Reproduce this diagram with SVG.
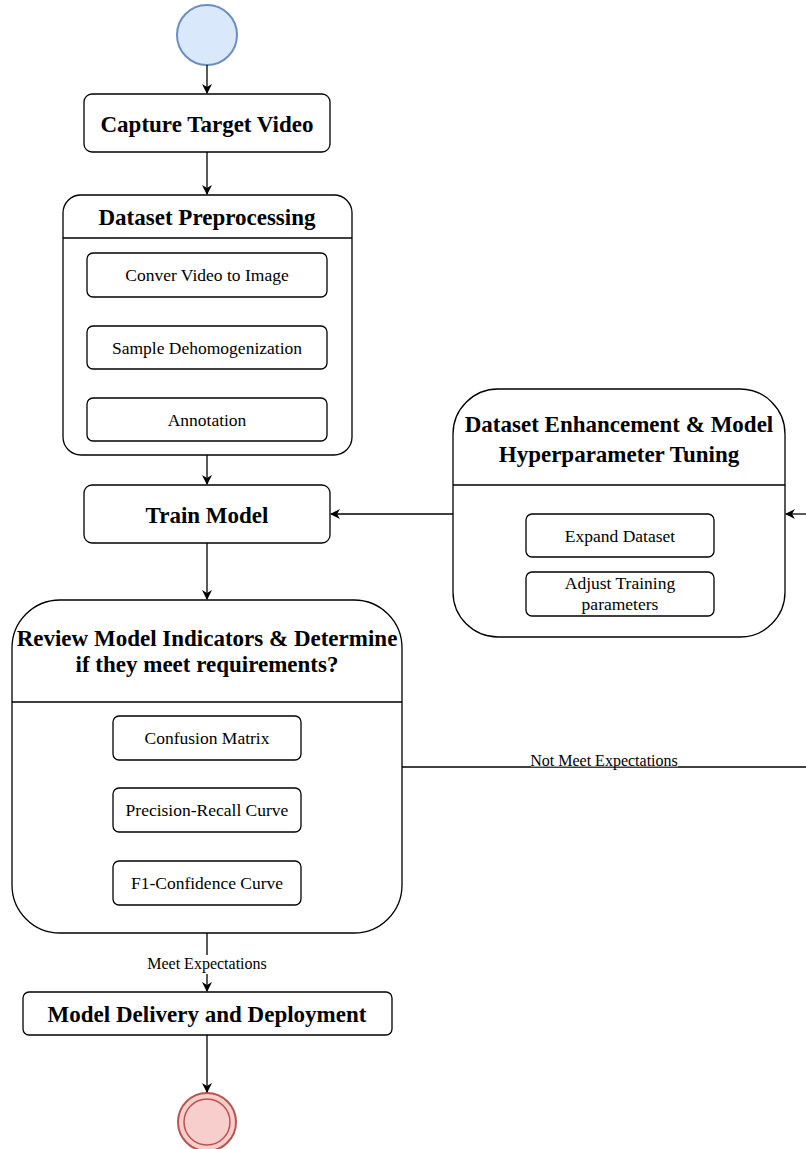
<svg xmlns="http://www.w3.org/2000/svg" width="806" height="1149" viewBox="0 0 806 1149">
<defs>
<marker id="arr" viewBox="0 0 10 10" refX="9" refY="5" markerWidth="10" markerHeight="10" markerUnits="userSpaceOnUse" orient="auto">
<path d="M0,0 L10,5 L0,10 L3,5 Z" fill="#000"/>
</marker>
<style>
.box{fill:#fff;stroke:#000;stroke-width:1.3}
.t{font-family:"Liberation Serif","Times New Roman",serif;fill:#000;text-anchor:middle}
.b{font-weight:bold;font-size:23px}
.n{font-size:17.5px}
.l{font-size:16px}
.c{fill:none;stroke:#000;stroke-width:1.3}
</style>
</defs>
<rect width="806" height="1149" fill="#fff"/>
<g id="start"><circle cx="207" cy="35" r="30" fill="#dae8fc" stroke="#6c8ebf" stroke-width="2"/></g>
<g id="capture"><rect class="box" x="84" y="94" width="246" height="58" rx="8"/><text class="t b" x="207" y="132">Capture Target Video</text></g>
<g id="preprocess">
<rect class="box" x="63" y="195" width="289" height="260" rx="18"/>
<line x1="63" y1="238" x2="352" y2="238" stroke="#000" stroke-width="1.3"/>
<text class="t b" x="207" y="225">Dataset Preprocessing</text>
<rect class="box" x="87" y="253" width="240" height="44" rx="6"/><text class="t n" x="207" y="281">Conver Video to Image</text>
<rect class="box" x="87" y="326" width="240" height="43" rx="6"/><text class="t n" x="207" y="354">Sample Dehomogenization</text>
<rect class="box" x="87" y="398" width="240" height="43" rx="6"/><text class="t n" x="207" y="426">Annotation</text>
</g>
<g id="train"><rect class="box" x="84" y="485" width="246" height="58" rx="8"/><text class="t b" x="207" y="523">Train Model</text></g>
<g id="enhance">
<rect class="box" x="453" y="389" width="332" height="248" rx="45"/>
<line x1="453" y1="485" x2="785" y2="485" stroke="#000" stroke-width="1.3"/>
<text class="t b" x="619" y="432">Dataset Enhancement &amp; Model</text>
<text class="t b" x="619" y="462">Hyperparameter Tuning</text>
<rect class="box" x="526" y="514" width="188" height="43" rx="6"/><text class="t n" x="620" y="542">Expand Dataset</text>
<rect class="box" x="526" y="572" width="188" height="44" rx="6"/><text class="t n" x="620" y="589">Adjust Training</text><text class="t n" x="620" y="610">parameters</text>
</g>
<g id="review">
<rect class="box" x="12" y="600" width="390" height="333" rx="48"/>
<line x1="12" y1="702" x2="402" y2="702" stroke="#000" stroke-width="1.3"/>
<text class="t b" x="207" y="646">Review Model Indicators &amp; Determine</text>
<text class="t b" x="207" y="672">if they meet requirements?</text>
<rect class="box" x="113" y="716" width="188" height="44" rx="6"/><text class="t n" x="207" y="744">Confusion Matrix</text>
<rect class="box" x="113" y="788" width="188" height="44" rx="6"/><text class="t n" x="207" y="816">Precision-Recall Curve</text>
<rect class="box" x="113" y="861" width="188" height="44" rx="6"/><text class="t n" x="207" y="889">F1-Confidence Curve</text>
</g>
<g id="deliver"><rect class="box" x="23" y="992" width="369" height="43" rx="6"/><text class="t b" x="207" y="1022">Model Delivery and Deployment</text></g>
<g id="end"><circle cx="207" cy="1122" r="29" fill="#f8cecc" stroke="#b85450" stroke-width="2"/><circle cx="207" cy="1122" r="23" fill="#f8cecc" stroke="#b85450" stroke-width="1.5"/></g>
<g id="connectors">
<line class="c" x1="207" y1="65" x2="207" y2="93" marker-end="url(#arr)"/>
<line class="c" x1="207" y1="152" x2="207" y2="194" marker-end="url(#arr)"/>
<line class="c" x1="207" y1="455" x2="207" y2="484" marker-end="url(#arr)"/>
<line class="c" x1="207" y1="543" x2="207" y2="599" marker-end="url(#arr)"/>
<line class="c" x1="453" y1="514" x2="331" y2="514" marker-end="url(#arr)"/>
<line class="c" x1="806" y1="514" x2="786" y2="514" marker-end="url(#arr)"/>
<line class="c" x1="402" y1="767" x2="806" y2="767"/>
<rect x="531" y="752" width="147" height="14.5" fill="#fff"/>
<text class="t l" x="604" y="766">Not Meet Expectations</text>
<line class="c" x1="207" y1="933" x2="207" y2="991" marker-end="url(#arr)"/>
<rect x="146" y="955" width="122" height="19" fill="#fff"/>
<text class="t l" x="207" y="969">Meet Expectations</text>
<line class="c" x1="207" y1="1035" x2="207" y2="1092" marker-end="url(#arr)"/>
</g>
</svg>
